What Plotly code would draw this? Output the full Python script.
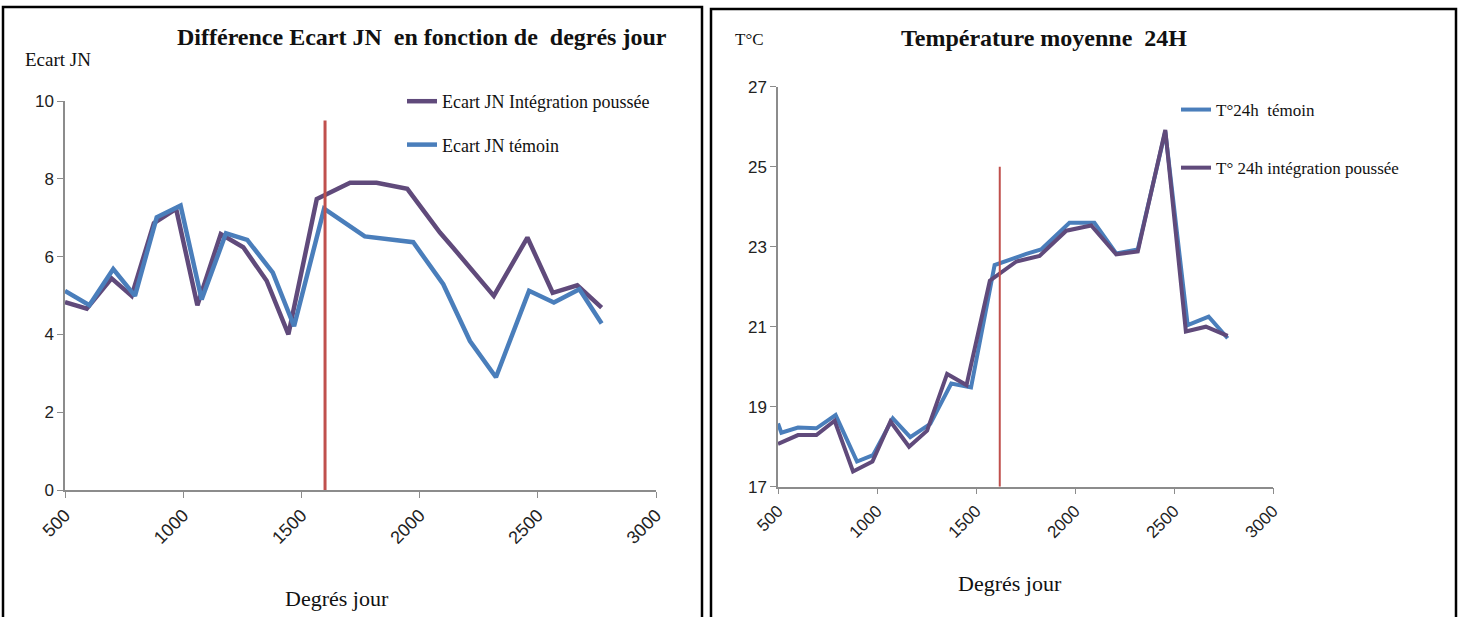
import plotly.graph_objects as go

W, H = 1465, 617

# Left chart: Ecart JN vs degrés jour
dj_integ = [500, 592, 697, 782, 876, 970, 1060, 1159, 1254, 1353, 1445, 1565,
            1706, 1818, 1948, 2086, 2140, 2314, 2456, 2563, 2667, 2770]
ecart_integ = [4.83, 4.66, 5.44, 4.99, 6.86, 7.23, 4.75, 6.58, 6.24, 5.38, 4.0, 7.48,
               7.9, 7.9, 7.74, 6.62, 6.24, 4.99, 6.49, 5.07, 5.26, 4.69]
dj_temoin = [500, 603, 704, 796, 888, 989, 1078, 1181, 1271, 1379, 1469, 1596,
             1768, 1973, 2100, 2213, 2323, 2463, 2568, 2676, 2770]
ecart_temoin = [5.12, 4.75, 5.68, 4.99, 7.01, 7.31, 4.90, 6.6, 6.43, 5.59, 4.21, 7.23,
                6.52, 6.37, 5.29, 3.83, 2.9, 5.12, 4.82, 5.16, 4.28]
marker_left_x = [1600, 1600]
marker_left_y = [0, 9.5]

# Right chart: température moyenne 24H
dj_t_temoin = [500, 517, 601, 694, 791, 899, 980, 1080, 1168, 1269, 1375, 1475,
               1594, 1686, 1754, 1829, 1972, 2098, 2208, 2317, 2456, 2569, 2675, 2771]
t_temoin = [18.58, 18.35, 18.48, 18.46, 18.79, 17.63, 17.79, 18.71, 18.24, 18.57, 19.58, 19.48,
            22.54, 22.71, 22.82, 22.93, 23.6, 23.6, 22.83, 22.93, 25.88, 21.04, 21.25, 20.71]
dj_t_integ = [500, 601, 694, 786, 879, 977, 1068, 1162, 1253, 1354, 1452,
              1570, 1704, 1821, 1956, 2082, 2208, 2317, 2456, 2560, 2661, 2771]
t_integ = [18.07, 18.29, 18.29, 18.65, 17.38, 17.63, 18.63, 18.0, 18.4, 19.82, 19.54,
           22.15, 22.63, 22.77, 23.4, 23.53, 22.81, 22.88, 25.92, 20.88, 21.0, 20.77]
marker_right_x = [1620, 1620]
marker_right_y = [17, 25]

x_ticks = [500, 1000, 1500, 2000, 2500, 3000]

PURPLE = "#604a7b"
BLUE = "#4a7ebb"
RED = "#c0504d"
SERIF = "Liberation Serif"
SANS = "Liberation Sans"


def px(x, y):
    return x / W, 1 - y / H


fig = go.Figure()

fig.add_trace(go.Scatter(x=dj_integ, y=ecart_integ, mode="lines", name="Ecart JN Intégration poussée",
                         line=dict(color=PURPLE, width=4.5), xaxis="x", yaxis="y",
                         legend="legend", legendgroup="a"))
fig.add_trace(go.Scatter(x=dj_temoin, y=ecart_temoin, mode="lines", name="Ecart JN témoin",
                         line=dict(color=BLUE, width=4.5), xaxis="x", yaxis="y",
                         legend="legend", legendgroup="b"))
fig.add_trace(go.Scatter(x=marker_left_x, y=marker_left_y, mode="lines", showlegend=False,
                         line=dict(color=RED, width=3), xaxis="x", yaxis="y"))

fig.add_trace(go.Scatter(x=dj_t_temoin, y=t_temoin, mode="lines", name="T°24h  témoin",
                         line=dict(color=BLUE, width=4), xaxis="x2", yaxis="y2",
                         legend="legend2", legendgroup="c"))
fig.add_trace(go.Scatter(x=dj_t_integ, y=t_integ, mode="lines", name="T° 24h intégration poussée",
                         line=dict(color=PURPLE, width=4), xaxis="x2", yaxis="y2",
                         legend="legend2", legendgroup="d"))
fig.add_trace(go.Scatter(x=marker_right_x, y=marker_right_y, mode="lines", showlegend=False,
                         line=dict(color=RED, width=2), xaxis="x2", yaxis="y2"))

axis_common = dict(showgrid=False, zeroline=False, showline=True, linecolor="#8c8c8c",
                   linewidth=1.5, ticks="outside", tickcolor="#8c8c8c", ticklen=6,
                   automargin=False)

fig.update_layout(
    width=W, height=H, margin=dict(l=0, r=0, t=0, b=0, autoexpand=False),
    paper_bgcolor="white", plot_bgcolor="white",
    xaxis=dict(domain=[65 / W, 656 / W], range=[500, 3000], tickvals=x_ticks, tickangle=-45,
               tickfont=dict(family=SANS, size=18, color="#222"), anchor="y", **axis_common),
    yaxis=dict(domain=[1 - 490 / H, 1 - 101 / H], range=[0, 10], tickvals=[0, 2, 4, 6, 8, 10],
               tickfont=dict(family=SANS, size=17, color="#222"), anchor="x", **axis_common),
    xaxis2=dict(domain=[778 / W, 1273 / W], range=[500, 3000], tickvals=x_ticks, tickangle=-45,
                tickfont=dict(family=SANS, size=17, color="#222"), anchor="y2", **axis_common),
    yaxis2=dict(domain=[1 - 486.7 / H, 1 - 86.7 / H], range=[17, 27], tickvals=[17, 19, 21, 23, 25, 27],
                tickfont=dict(family=SANS, size=17, color="#222"), anchor="x2", **axis_common),
    legend=dict(x=px(402, 0)[0], y=px(0, 83)[1], xanchor="left", yanchor="top",
                traceorder="grouped", tracegroupgap=17, bgcolor="rgba(0,0,0,0)",
                font=dict(family=SERIF, size=18, color="#111")),
    legend2=dict(x=px(1176, 0)[0], y=px(0, 92)[1], xanchor="left", yanchor="top",
                 traceorder="grouped", tracegroupgap=33, bgcolor="rgba(0,0,0,0)",
                 font=dict(family=SERIF, size=17, color="#111")),
)

annotations = [
    (422, 37, "<b>Différence Ecart JN  en fonction de  degrés jour</b>", 24),
    (58, 60, "Ecart JN", 19),
    (337, 598, "Degrés jour", 22),
    (1044, 38, "<b>Température moyenne  24H</b>", 24),
    (750, 40, "T°C", 17),
    (1010, 583, "Degrés jour", 22),
]
for ax_, ay_, text, size in annotations:
    x, y = px(ax_, ay_)
    fig.add_annotation(x=x, y=y, xref="paper", yref="paper", text=text, showarrow=False,
                       xanchor="center", yanchor="middle",
                       font=dict(family=SERIF, size=size, color="#111"))

# panel frames
for x0, x1, y0 in [(3, 702, 7), (711, 1456, 9)]:
    fig.add_shape(type="rect", xref="paper", yref="paper",
                  x0=x0 / W, x1=x1 / W, y0=-0.05, y1=1 - y0 / H,
                  line=dict(color="black", width=2.5))

# drop the default page margin so the figure sits at the window's corner
fig.write_html("out.html", config={"displayModeBar": False},
               post_script="document.body.style.margin='0';")
